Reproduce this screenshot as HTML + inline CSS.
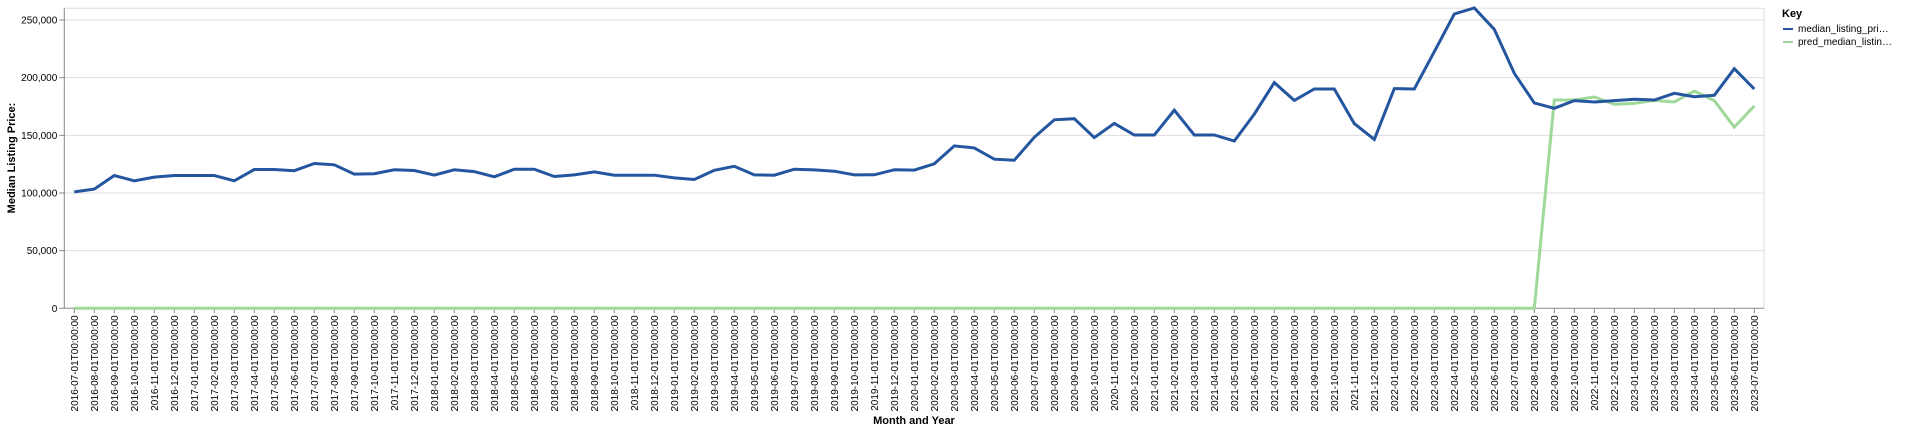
<!DOCTYPE html>
<html><head><meta charset="utf-8"><style>
html,body{margin:0;padding:0;background:#fff;}
svg{display:block;font-family:"Liberation Sans",sans-serif;}
</style></head><body>
<svg id="chart" width="1920" height="432" viewBox="0 0 1920 432" xmlns="http://www.w3.org/2000/svg">
<g id="grid"></g>
<g id="yaxis"></g>
<g id="xaxis"></g>
<g id="series"></g>
<text transform="translate(15,158) rotate(-90)" text-anchor="middle" font-size="11" font-weight="bold" fill="#000">Median Listing Price:</text>
<text x="914" y="424" text-anchor="middle" font-size="11" font-weight="bold" fill="#000">Month and Year</text>
<g>
<text x="1782" y="17" font-size="11" font-weight="bold" fill="#000">Key</text>
<g>
<line x1="1783" y1="29" x2="1793" y2="29" stroke="#2456a0" stroke-width="2"/>
<text x="1798" y="32" font-size="10" fill="#000">median_listing_pri…</text></g>
<g>
<line x1="1783" y1="42" x2="1793" y2="42" stroke="#9fd99a" stroke-width="2"/>
<text x="1798" y="45" font-size="10" fill="#000">pred_median_listin…</text></g>
</g>
</svg>
<script>
const startYear = 2016, startMonth = 7, monthCount = 85;
const yTicks = [0, 50000, 100000, 150000, 200000, 250000];
const median = [100900,103400,115200,110600,113800,115200,115200,115200,110600,120400,120400,119300,125600,124400,116400,116700,120100,119500,115500,120100,118500,114000,120600,120600,114300,115700,118300,115400,115400,115400,113100,111700,119700,123100,115700,115400,120600,120000,118900,115700,115800,120100,119800,125300,140800,139100,129300,128400,148300,163500,164400,148000,160300,150300,150300,171800,150300,150300,145100,168400,195700,180300,190200,190200,160200,146500,190500,190200,222500,255200,260400,241900,203800,178000,173400,180100,178900,180100,181200,180600,186400,183500,184700,207800,190200];
const pred = [0,0,0,0,0,0,0,0,0,0,0,0,0,0,0,0,0,0,0,0,0,0,0,0,0,0,0,0,0,0,0,0,0,0,0,0,0,0,0,0,0,0,0,0,0,0,0,0,0,0,0,0,0,0,0,0,0,0,0,0,0,0,0,0,0,0,0,0,0,0,0,0,0,0,180600,180600,183200,176900,177700,180300,178900,188400,180100,157000,175500];
const categories = [];
for (let i = 0; i < monthCount; i++) {
  const m = startMonth - 1 + i, y = startYear + Math.floor(m / 12), mm = (m % 12) + 1;
  categories.push(y + '-' + String(mm).padStart(2, '0') + '-01T00:00:00');
}
const NS = 'http://www.w3.org/2000/svg';
const L = 64.3, R = 1764, T = 8.3, B = 308.3, x0 = 74.3, step = 20;
function xs(i){ return x0 + i * step; }
function ys(v){ return B - v / 250000 * (B - 20); }
function mk(tag, attrs, parent){ const e = document.createElementNS(NS, tag); for (const k in attrs) e.setAttribute(k, attrs[k]); parent.appendChild(e); return e; }
const grid = document.getElementById('grid'), ya = document.getElementById('yaxis'), xa = document.getElementById('xaxis'), ser = document.getElementById('series');
mk('line', {x1:L, y1:T, x2:R, y2:T, stroke:'#ddd', 'stroke-width':1}, grid);
mk('line', {x1:R, y1:T, x2:R, y2:B, stroke:'#ddd', 'stroke-width':1}, grid);
yTicks.forEach(v => {
  const y = ys(v);
  if (v > 0) {
    const g = mk('line', {x1:L, y1:y, x2:R, y2:y, stroke:'#ddd', 'stroke-width':1}, grid);
    
    
  }
  mk('line', {x1:L-5, y1:y, x2:L, y2:y, stroke:'#888', 'stroke-width':1}, ya);
  const t = mk('text', {x:L-7, y:y+3.5, 'text-anchor':'end', 'font-size':10, fill:'#000'}, ya);
  t.textContent = v.toLocaleString('en-US');
  
  
});
mk('line', {x1:L, y1:T, x2:L, y2:B, stroke:'#888', 'stroke-width':1}, ya);
mk('line', {x1:L, y1:B, x2:R, y2:B, stroke:'#888', 'stroke-width':1}, xa);
categories.forEach((c, i) => {
  const x = xs(i);
  mk('line', {x1:x, y1:B, x2:x, y2:B+5, stroke:'#888', 'stroke-width':1}, xa);
  const t = mk('text', {transform:'translate(' + (x+3.5) + ',' + (B+7) + ') rotate(-90)', 'text-anchor':'end', 'font-size':10, fill:'#000'}, xa);
  t.textContent = c;
  
  
});
function line(vals, color, name){
  const d = vals.map((v, i) => (i ? 'L' : 'M') + xs(i).toFixed(1) + ',' + ys(v).toFixed(1)).join('');
  const p = mk('path', {d:d, fill:'none', stroke:color, 'stroke-width':3, 'stroke-linejoin':'miter'}, ser);
  
  
}
line(pred, '#9fd99a', 'pred-median-listing-price-line');
line(median, '#2456a0', 'median-listing-price-line');
</script>
</body></html>
